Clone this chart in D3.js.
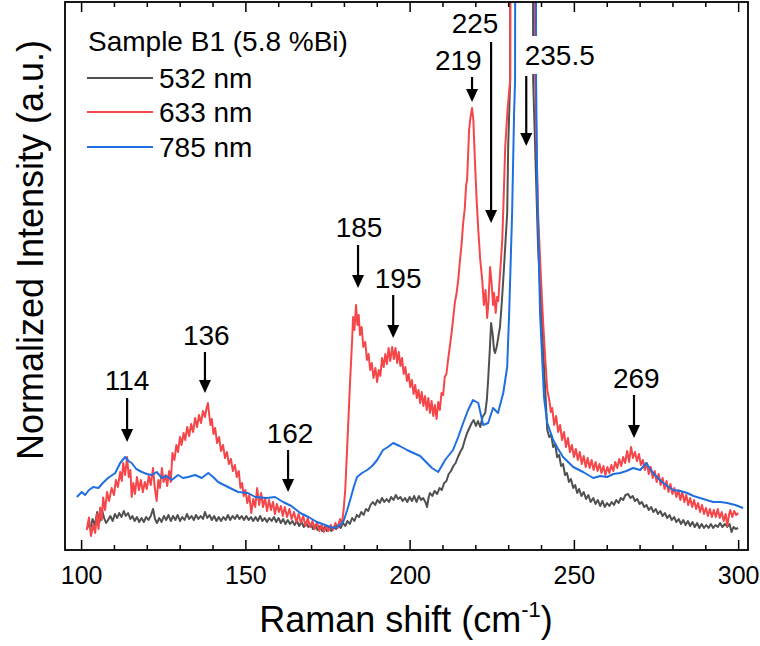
<!DOCTYPE html>
<html>
<head>
<meta charset="utf-8">
<script src="https://cdn.jsdelivr.net/npm/d3@7"></script>
<style>
  body { margin: 0; background: #fff; }
  text { font-family: "Liberation Sans", Arial, sans-serif; fill: #000; }
</style>
</head>
<body>
<svg id="chart" width="760" height="646"></svg>
<script>
// ---- data (Raman shift in cm^-1, normalized intensity in a.u.) ----
const seriesNames = ["532 nm", "633 nm", "785 nm"];
const legendTitle = "Sample B1 (5.8 %Bi)";
const xTicks = [100, 150, 200, 250, 300];

const grey532 = [[102.0,5.3],[102.8,4.2],[103.5,6.2],[104.2,5.0],[104.9,7.6],[105.6,5.6],[106.3,8.2],[107.0,6.4],[107.6,5.4],[108.2,6.0],[108.9,6.8],[109.6,5.8],[110.3,7.2],[111.0,6.4],[111.6,7.4],[112.3,6.6],[113.0,7.8],[113.6,6.8],[114.3,7.4],[115.0,6.2],[115.6,6.8],[116.3,5.8],[117.0,6.6],[117.7,5.6],[118.4,6.4],[119.1,5.6],[119.8,6.6],[120.5,6.0],[121.2,6.8],[121.9,8.2],[122.5,6.2],[123.1,5.4],[123.8,6.4],[124.5,5.6],[125.2,6.8],[125.9,6.0],[126.6,7.0],[127.3,5.8],[128.0,6.8],[128.7,6.0],[129.4,7.0],[130.1,5.8],[130.8,6.6],[131.5,6.0],[132.2,7.2],[132.9,6.2],[133.6,6.8],[134.3,6.0],[135.0,7.0],[135.7,6.2],[136.4,6.8],[137.1,6.2],[137.7,7.6],[138.4,6.4],[139.1,7.0],[139.8,6.0],[140.5,6.8],[141.2,5.8],[141.9,6.6],[142.6,5.8],[143.3,6.6],[144.0,6.0],[144.7,7.0],[145.4,6.0],[146.1,6.8],[146.8,6.2],[147.5,7.0],[148.2,6.2],[148.9,6.8],[149.6,6.0],[150.3,6.8],[151.0,6.0],[151.7,6.6],[152.4,5.8],[153.1,6.6],[153.8,5.8],[154.5,6.8],[155.2,5.8],[155.9,6.4],[156.6,5.6],[157.3,6.4],[158.0,5.8],[158.7,6.6],[159.4,5.6],[160.1,6.4],[160.8,5.4],[161.5,6.2],[162.2,5.2],[162.9,6.0],[163.6,5.2],[164.3,5.8],[165.0,5.0],[165.7,5.8],[166.4,4.8],[167.1,5.6],[167.8,4.6],[168.5,5.4],[169.2,4.6],[169.9,5.2],[170.6,4.2],[171.3,5.0],[172.0,4.0],[172.7,4.8],[173.4,3.8],[174.1,4.6],[174.8,3.8],[175.5,4.6],[176.2,3.8],[176.9,4.6],[177.6,4.2],[178.3,5.0],[179.0,4.4],[179.7,5.4],[180.4,4.8],[181.1,5.8],[181.8,5.2],[182.5,6.4],[183.2,5.8],[183.9,7.0],[184.6,6.6],[185.3,7.6],[186.0,7.0],[186.7,8.2],[187.4,7.8],[188.1,9.0],[188.8,9.6],[189.5,9.0],[190.2,10.0],[190.9,9.4],[191.6,10.4],[192.3,9.6],[193.0,10.2],[193.7,9.6],[194.4,10.6],[195.1,10.0],[195.8,11.0],[196.5,10.2],[197.2,10.6],[197.9,9.8],[198.6,10.4],[199.3,9.6],[200.0,10.6],[200.7,9.8],[201.4,10.8],[202.1,9.6],[202.8,10.8],[203.5,10.0],[204.1,10.4],[204.8,9.6],[205.3,8.6],[205.8,10.6],[206.2,11.4],[206.9,10.8],[207.6,11.8],[208.4,11.2],[209.1,12.4],[209.8,12.0],[210.5,13.4],[211.2,13.8],[211.9,15.2],[212.6,15.8],[213.3,16.8],[214.0,17.4],[214.7,18.6],[215.4,19.6],[216.1,20.4],[216.8,22.0],[217.5,23.4],[218.2,24.4],[218.9,25.4],[219.5,26.0],[220.2,24.8],[220.8,25.8],[221.5,24.6],[222.2,26.6],[223.0,27.4],[223.5,30.0],[223.9,34.0],[224.4,40.0],[224.8,45.4],[225.3,43.0],[225.7,40.0],[226.0,39.4],[226.5,40.6],[227.0,42.6],[227.5,44.6],[228.0,49.0],[228.5,54.0],[229.7,67.4],[230.0,80.6],[230.6,94.0],[233.6,2000],[237.6,94.0],[239.1,60.6],[240.6,40.6],[241.9,24.0],[242.5,22.6],[243.1,23.0],[243.7,20.6],[244.3,21.2],[244.9,18.6],[245.5,19.0],[246.1,16.8],[246.7,17.2],[247.3,15.0],[247.9,15.4],[248.5,13.6],[249.1,14.2],[249.8,12.4],[250.4,13.0],[251.0,11.4],[251.6,12.2],[252.3,10.8],[253.0,11.6],[253.7,10.2],[254.4,11.0],[255.1,9.6],[255.9,10.4],[256.6,9.2],[257.3,10.0],[258.0,8.8],[258.7,9.8],[259.4,8.6],[260.1,9.4],[260.8,8.8],[261.5,9.6],[262.2,9.0],[262.9,10.0],[263.6,9.4],[264.3,10.4],[265.0,10.0],[265.7,11.0],[266.5,11.2],[267.2,10.4],[267.9,10.8],[268.6,9.8],[269.3,10.2],[270.0,9.2],[270.7,9.6],[271.4,8.6],[272.1,9.0],[272.8,8.0],[273.5,8.6],[274.2,7.6],[274.9,8.2],[275.6,7.2],[276.3,7.8],[277.0,6.8],[277.7,7.4],[278.4,6.4],[279.1,7.0],[279.8,6.0],[280.5,6.6],[281.2,5.6],[281.9,6.2],[282.6,5.2],[283.3,6.0],[284.0,5.0],[284.7,5.8],[285.4,4.8],[286.1,5.6],[286.8,4.6],[287.5,5.4],[288.2,4.4],[288.9,5.2],[289.6,4.4],[290.3,5.0],[291.0,4.4],[291.7,5.2],[292.4,4.4],[293.1,5.0],[293.8,4.6],[294.5,5.4],[295.2,4.6],[296.0,5.2],[296.7,4.6],[297.4,5.2],[298.0,3.6],[298.6,4.6],[299.3,4.2],[300.0,4.4]];

const red633 = [[101.7,4.0],[102.4,6.5],[103.0,2.8],[103.7,5.0],[104.3,3.4],[104.8,7.2],[105.3,4.2],[105.8,8.5],[106.3,6.0],[106.7,10.5],[107.3,8.0],[107.9,11.6],[108.5,9.8],[109.3,12.4],[110.0,11.0],[110.6,14.0],[111.2,12.6],[111.9,15.6],[112.4,13.8],[112.8,17.4],[113.4,15.0],[114.0,18.6],[114.5,14.6],[115.0,16.0],[115.4,10.6],[115.9,13.4],[116.4,11.2],[117.0,14.6],[117.6,12.0],[118.2,14.0],[118.8,11.6],[119.4,13.6],[120.0,12.2],[120.6,14.8],[121.2,13.0],[121.9,16.4],[122.4,12.6],[123.0,9.8],[123.5,14.0],[124.0,12.4],[124.6,16.4],[125.1,13.6],[125.7,15.0],[126.2,12.8],[126.8,15.8],[127.3,13.6],[127.8,19.4],[128.4,18.0],[129.0,21.0],[129.5,19.6],[130.1,22.6],[130.6,21.0],[131.2,23.4],[131.7,22.0],[132.3,24.6],[132.9,22.8],[133.5,25.2],[134.1,23.6],[134.7,26.4],[135.3,24.6],[135.9,27.0],[136.5,25.4],[137.1,27.8],[137.7,26.6],[138.2,28.4],[138.6,29.4],[139.0,27.0],[139.4,25.0],[139.8,26.2],[140.3,23.2],[140.8,24.4],[141.4,21.4],[142.0,22.6],[142.6,19.8],[143.2,21.0],[143.8,18.4],[144.4,19.6],[145.0,17.2],[145.6,18.2],[146.2,15.8],[146.8,17.0],[147.4,14.6],[148.0,15.8],[148.5,12.4],[149.0,13.4],[149.5,10.8],[150.0,12.0],[150.6,9.4],[151.2,11.0],[151.8,7.4],[152.4,10.2],[153.0,8.6],[153.6,12.4],[154.2,9.0],[154.8,11.4],[155.4,8.6],[156.0,10.4],[156.6,7.8],[157.2,10.0],[157.8,8.0],[158.4,9.6],[159.0,7.2],[159.6,9.2],[160.2,7.6],[160.8,8.8],[161.4,6.8],[162.0,8.6],[162.7,6.6],[163.4,8.2],[164.1,6.2],[164.8,7.6],[165.5,5.6],[166.2,7.2],[166.9,5.4],[167.6,6.8],[168.3,4.8],[169.0,6.4],[169.7,4.6],[170.4,5.8],[171.1,4.2],[171.8,5.6],[172.5,3.8],[173.2,5.0],[173.9,3.6],[174.6,4.8],[175.3,3.8],[176.0,5.0],[176.7,4.0],[177.4,5.4],[178.1,4.4],[178.8,6.2],[179.4,5.2],[179.9,8.0],[180.4,12.0],[181.0,20.6],[181.9,34.0],[182.5,42.0],[182.8,46.6],[183.2,44.0],[183.7,49.0],[184.1,45.0],[184.5,47.0],[184.9,43.0],[185.4,44.6],[185.9,40.6],[186.5,41.6],[187.0,38.0],[187.5,39.2],[188.0,36.0],[188.5,37.4],[189.0,34.4],[189.6,36.4],[190.1,33.6],[190.6,36.0],[191.1,34.8],[191.6,38.4],[192.1,36.6],[192.6,39.2],[193.1,37.2],[193.6,40.4],[194.1,37.8],[194.7,40.6],[195.2,38.2],[195.7,40.4],[196.2,37.4],[196.7,39.6],[197.2,36.8],[197.7,38.4],[198.2,35.2],[198.7,36.6],[199.2,33.8],[199.7,35.2],[200.2,32.6],[200.7,34.0],[201.2,31.2],[201.7,33.0],[202.2,30.4],[202.7,32.0],[203.2,29.4],[203.7,31.6],[204.2,28.8],[204.7,30.8],[205.2,28.0],[205.7,30.4],[206.2,27.4],[206.7,29.8],[207.2,26.8],[207.7,29.0],[208.2,26.2],[208.7,29.6],[209.2,28.0],[209.7,31.4],[210.2,31.0],[210.7,34.6],[211.2,35.2],[211.7,38.0],[212.3,41.0],[212.8,43.6],[213.2,46.0],[213.8,49.6],[214.3,51.4],[214.8,54.0],[215.3,57.8],[215.8,61.0],[216.3,65.4],[216.8,68.4],[217.2,73.0],[217.5,74.0],[217.8,79.0],[218.1,84.0],[218.5,86.4],[219.0,88.4],[219.4,86.0],[219.9,77.4],[220.4,70.0],[220.9,64.0],[221.5,58.0],[222.1,54.0],[222.6,49.0],[223.1,52.0],[223.6,46.4],[224.0,49.6],[224.5,56.6],[225.0,53.0],[225.4,49.0],[225.7,51.4],[226.2,47.4],[226.6,50.6],[227.0,49.8],[227.4,54.0],[227.8,58.0],[228.2,62.0],[228.6,70.0],[229.1,80.6],[229.8,88.0],[230.6,94.0],[233.8,2000],[238.2,94.0],[239.1,67.4],[240.0,54.0],[240.6,46.0],[241.3,38.0],[241.9,32.0],[242.5,30.0],[243.0,27.6],[243.4,28.4],[244.0,25.0],[244.6,26.8],[245.2,23.6],[245.8,25.0],[246.4,22.0],[247.0,23.6],[247.6,20.6],[248.2,22.4],[248.8,19.6],[249.4,21.0],[250.0,18.6],[250.6,20.2],[251.2,18.0],[251.8,19.6],[252.4,17.2],[253.0,18.8],[253.6,16.6],[254.2,18.4],[254.8,16.4],[255.4,18.0],[256.0,16.0],[256.6,17.6],[257.2,15.8],[257.8,17.2],[258.4,15.4],[259.0,16.8],[259.6,15.0],[260.2,16.6],[260.8,15.4],[261.4,17.0],[262.0,15.8],[262.6,17.6],[263.2,16.4],[263.8,18.2],[264.4,16.8],[265.0,18.6],[265.6,17.4],[266.2,19.8],[266.8,17.6],[267.4,20.6],[268.0,18.4],[268.6,19.6],[269.2,17.8],[269.8,19.2],[270.4,17.0],[271.0,18.0],[271.6,16.0],[272.2,17.4],[272.8,15.2],[273.4,16.6],[274.0,14.4],[274.6,15.8],[275.2,13.6],[275.8,15.2],[276.4,13.0],[277.0,14.4],[277.6,12.2],[278.2,13.8],[278.8,11.6],[279.4,13.2],[280.0,11.2],[280.6,12.4],[281.2,10.6],[281.8,12.0],[282.4,10.0],[283.0,11.6],[283.6,9.6],[284.2,11.0],[284.8,9.0],[285.4,10.4],[286.0,8.6],[286.6,10.0],[287.2,8.2],[287.8,9.4],[288.4,7.6],[289.0,9.0],[289.6,7.2],[290.2,8.4],[290.8,6.8],[291.4,8.2],[292.0,6.6],[292.6,8.0],[293.2,6.6],[293.8,8.2],[294.4,6.4],[295.0,7.6],[295.6,5.8],[296.2,7.2],[296.7,4.8],[297.2,7.0],[297.6,8.0],[298.2,6.6],[298.8,7.8],[299.4,7.0],[300.0,7.4]];

const blue785 = [[98.7,10.6],[100.2,11.6],[101.2,11.0],[102.4,12.0],[103.7,12.6],[105.3,12.4],[106.6,13.4],[108.2,14.4],[110.4,15.4],[111.9,17.4],[113.4,18.6],[114.4,17.8],[115.4,17.4],[116.8,16.2],[118.5,15.6],[120.0,15.2],[121.5,15.0],[123.0,15.6],[124.6,14.4],[126.0,14.8],[127.6,14.0],[129.5,15.0],[131.0,14.4],[132.6,14.6],[134.7,15.0],[136.7,14.4],[138.7,15.4],[140.2,14.6],[141.7,13.6],[144.7,12.6],[147.8,11.6],[150.8,11.4],[153.0,10.6],[156.6,10.4],[159.0,10.6],[161.5,9.6],[164.0,8.8],[166.7,7.4],[169.2,6.6],[171.8,5.6],[174.3,5.0],[176.7,4.4],[178.3,4.8],[179.8,5.6],[181.0,8.0],[181.9,10.0],[183.0,12.6],[184.0,14.6],[185.5,15.4],[187.1,16.0],[188.6,16.8],[190.1,18.0],[191.9,20.0],[193.4,20.6],[195.0,21.4],[197.0,20.8],[199.2,20.0],[201.2,19.4],[203.2,18.8],[205.0,17.6],[206.8,16.4],[208.7,15.6],[210.8,18.0],[213.2,20.0],[214.8,22.6],[216.3,25.4],[217.8,28.0],[219.3,30.0],[220.9,29.4],[222.4,25.0],[223.9,25.4],[225.4,28.4],[226.9,27.4],[228.5,31.4],[229.7,36.6],[230.3,47.4],[231.2,67.4],[231.8,87.4],[232.1,94.0],[234.6,2000],[238.5,94.0],[238.8,74.0],[239.7,47.4],[240.9,30.6],[241.9,25.4],[243.7,22.0],[245.2,20.2],[246.7,18.6],[249.8,16.6],[252.8,15.6],[255.9,14.4],[258.0,14.8],[260.1,14.6],[262.0,15.2],[264.1,15.4],[266.0,15.8],[268.0,16.4],[270.2,16.0],[272.0,17.4],[274.1,15.4],[275.6,14.4],[277.2,13.4],[280.2,12.0],[282.4,11.8],[284.5,11.4],[286.4,10.8],[288.4,10.4],[290.4,10.0],[292.4,9.6],[294.6,9.6],[296.7,9.4],[299.1,9.0],[301.5,8.4]];

// peak annotations: label, arrow position (cm^-1), arrow top / tip (a.u.)
const peakLabels = ["114", "136", "162", "185", "195", "219", "225", "235.5", "269"];
const peakArrowX = [114, 137.7, 163, 184.3, 195, 219, 224.8, 235.5, 268.3];
const peakArrowTop = [30.4, 39.6, 20.0, 61.0, 51.0, 94.6, 101.6, 94.8, 31.0];
const peakArrowTip = [21.6, 31.4, 11.6, 52.4, 42.4, 89.6, 65.4, 80.8, 22.4];
const peakLabelX = [114.0, 138.1, 163.6, 184.6, 196.5, 214.8, 219.9, 245.7, 269.0];
const peakLabelY = [32.0, 41.0, 21.4, 62.6, 52.4, 96.0, 103.4, 97.0, 32.4];

// ---- layout ----
const svg = d3.select("#chart");
const L = 65, R = 748, T = 2, B = 550;
const x = d3.scaleLinear().domain([95.1, 303.0]).range([L, R]);
const y = d3.scaleLinear().domain([0, 109.6]).range([B, T]);
const colors = ["#505050", "#f5464a", "#1f6fe0"];
const series = [grey532, red633, blue785];

svg.append("defs").append("clipPath").attr("id", "clip")
  .append("rect").attr("x", L).attr("y", T).attr("width", R - L).attr("height", B - T);

const line = d3.line().x(d => x(d[0])).y(d => y(d[1]));
const plot = svg.append("g").attr("clip-path", "url(#clip)");
series.forEach((s, i) => {
  plot.append("path").datum(s).attr("d", line)
    .attr("fill", "none").attr("stroke", colors[i]).attr("stroke-width", 2)
    .attr("stroke-linejoin", "round");
});

// axes (inward ticks, top & bottom)
const minor = d3.range(100, 301, 10).filter(v => v % 50 !== 0);
const gB = svg.append("g").attr("transform", `translate(0,${B})`)
  .call(d3.axisBottom(x).tickValues(xTicks).tickSize(-10).tickFormat(d3.format("d")).tickPadding(16));
gB.select(".domain").remove();
gB.selectAll(".tick line").attr("stroke", "#000").attr("stroke-width", 1.5);
gB.selectAll(".tick text").attr("font-size", 25).attr("font-family", "Liberation Sans, Arial, sans-serif").attr("dy", "0.71em");
svg.append("g").attr("transform", `translate(0,${B})`)
  .call(d3.axisBottom(x).tickValues(minor).tickSize(-5).tickFormat(""))
  .call(g => g.select(".domain").remove())
  .selectAll("line").attr("stroke", "#000").attr("stroke-width", 1.5);
svg.append("g").attr("transform", `translate(0,${T})`)
  .call(d3.axisTop(x).tickValues(xTicks).tickSize(-10).tickFormat(""))
  .call(g => g.select(".domain").remove())
  .selectAll("line").attr("stroke", "#000").attr("stroke-width", 1.5);
svg.append("g").attr("transform", `translate(0,${T})`)
  .call(d3.axisTop(x).tickValues(minor).tickSize(-5).tickFormat(""))
  .call(g => g.select(".domain").remove())
  .selectAll("line").attr("stroke", "#000").attr("stroke-width", 1.5);

// frame
svg.append("rect").attr("x", L).attr("y", T).attr("width", R - L).attr("height", B - T)
  .attr("fill", "none").attr("stroke", "#000").attr("stroke-width", 1.8);

// axis titles
const xt = svg.append("text").attr("x", 406).attr("y", 632).attr("text-anchor", "middle").attr("font-size", 36);
xt.append("tspan").text("Raman shift (cm");
xt.append("tspan").attr("font-size", 22).attr("dy", -15).text("-1");
xt.append("tspan").attr("dy", 15).text(")");
svg.append("text").attr("transform", "translate(43,250) rotate(-90)")
  .attr("text-anchor", "middle").attr("font-size", 36).text("Normalized Intensity (a.u.)");

// legend
svg.append("text").attr("x", 88).attr("y", 51).attr("font-size", 28).text(legendTitle);
const legY = [78, 112, 147];
seriesNames.forEach((n, i) => {
  svg.append("line").attr("x1", 87).attr("x2", 153).attr("y1", legY[i]).attr("y2", legY[i])
    .attr("stroke", colors[i]).attr("stroke-width", 2);
  svg.append("text").attr("x", 159).attr("y", legY[i] + 10).attr("font-size", 28).text(n);
});

// peak annotations
peakLabels.forEach((lab, i) => {
  const ax = x(peakArrowX[i]), y0 = y(peakArrowTop[i]), y1 = y(peakArrowTip[i]);
  if (lab === "235.5") {
    svg.append("rect").attr("x", 524).attr("y", 36).attr("width", 76).attr("height", 38).attr("fill", "#fff");
  }
  svg.append("line").attr("x1", ax).attr("x2", ax).attr("y1", y0).attr("y2", y1 - 10)
    .attr("stroke", "#000").attr("stroke-width", 2.2);
  svg.append("path").attr("d", `M${ax - 6},${y1 - 13} L${ax + 6},${y1 - 13} L${ax},${y1} Z`).attr("fill", "#000");
  svg.append("text").attr("x", x(peakLabelX[i])).attr("y", y(peakLabelY[i]))
    .attr("text-anchor", "middle").attr("font-size", 28).text(lab);
});
</script>
</body>
</html>
